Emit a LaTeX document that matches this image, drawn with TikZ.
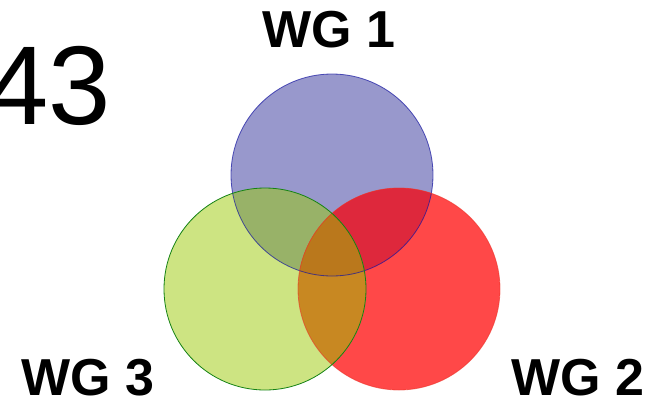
\documentclass[tikz,border=0pt]{standalone}
\usepackage{fontspec}
\setmainfont{Liberation Sans}
\definecolor{cblue}{RGB}{152,152,204}
\definecolor{cgreen}{RGB}{205,228,130}
\definecolor{cred}{RGB}{255,72,72}
\definecolor{cbg}{RGB}{152,178,104}
\definecolor{cbr}{RGB}{222,40,60}
\definecolor{cgr}{RGB}{200,136,34}
\definecolor{cbgr}{RGB}{186,120,28}
\definecolor{bedge}{RGB}{20,20,160}
\definecolor{gedge}{RGB}{20,130,20}
\definecolor{redge}{RGB}{235,50,40}
\tikzset{
  lbl/.style={font=\fontsize{52}{60}\selectfont\bfseries, anchor=base, inner sep=0pt},
  edge/.style={line width=0.8pt}
}
\begin{document}
\begin{tikzpicture}[x=1pt,y=-1pt]
\useasboundingbox (0,0) rectangle (656,400);
\def\R{101}
\coordinate (B) at (332,175);
\coordinate (G) at (265,289);
\coordinate (Rd) at (399,289);
% single fills
\fill[cblue] (B) circle (\R);
\fill[cred] (Rd) circle (\R);
\fill[cgreen] (G) circle (\R);
% pairwise overlaps
\begin{scope}
  \clip (B) circle (\R);
  \fill[cbg] (G) circle (\R);
  \fill[cbr] (Rd) circle (\R);
\end{scope}
\begin{scope}
  \clip (G) circle (\R);
  \fill[cgr] (Rd) circle (\R);
  \clip (B) circle (\R);
  \fill[cbgr] (Rd) circle (\R);
\end{scope}
% edges
\draw[edge, bedge, draw opacity=0.7] (B) circle (\R);
\draw[edge, redge, draw opacity=0.6] (Rd) circle (\R);
\draw[edge, gedge] (G) circle (\R);
% labels
\node[anchor=base west, inner sep=0pt, font=\fontsize{112}{120}\selectfont] (num) at (-14,124) {43};
\node[lbl] (wg1) at (329,47) {WG 1};
\node[lbl] (wg3) at (88,395) {WG 3};
\node[lbl] (wg2) at (578,395) {WG 2};
\end{tikzpicture}
\end{document}
